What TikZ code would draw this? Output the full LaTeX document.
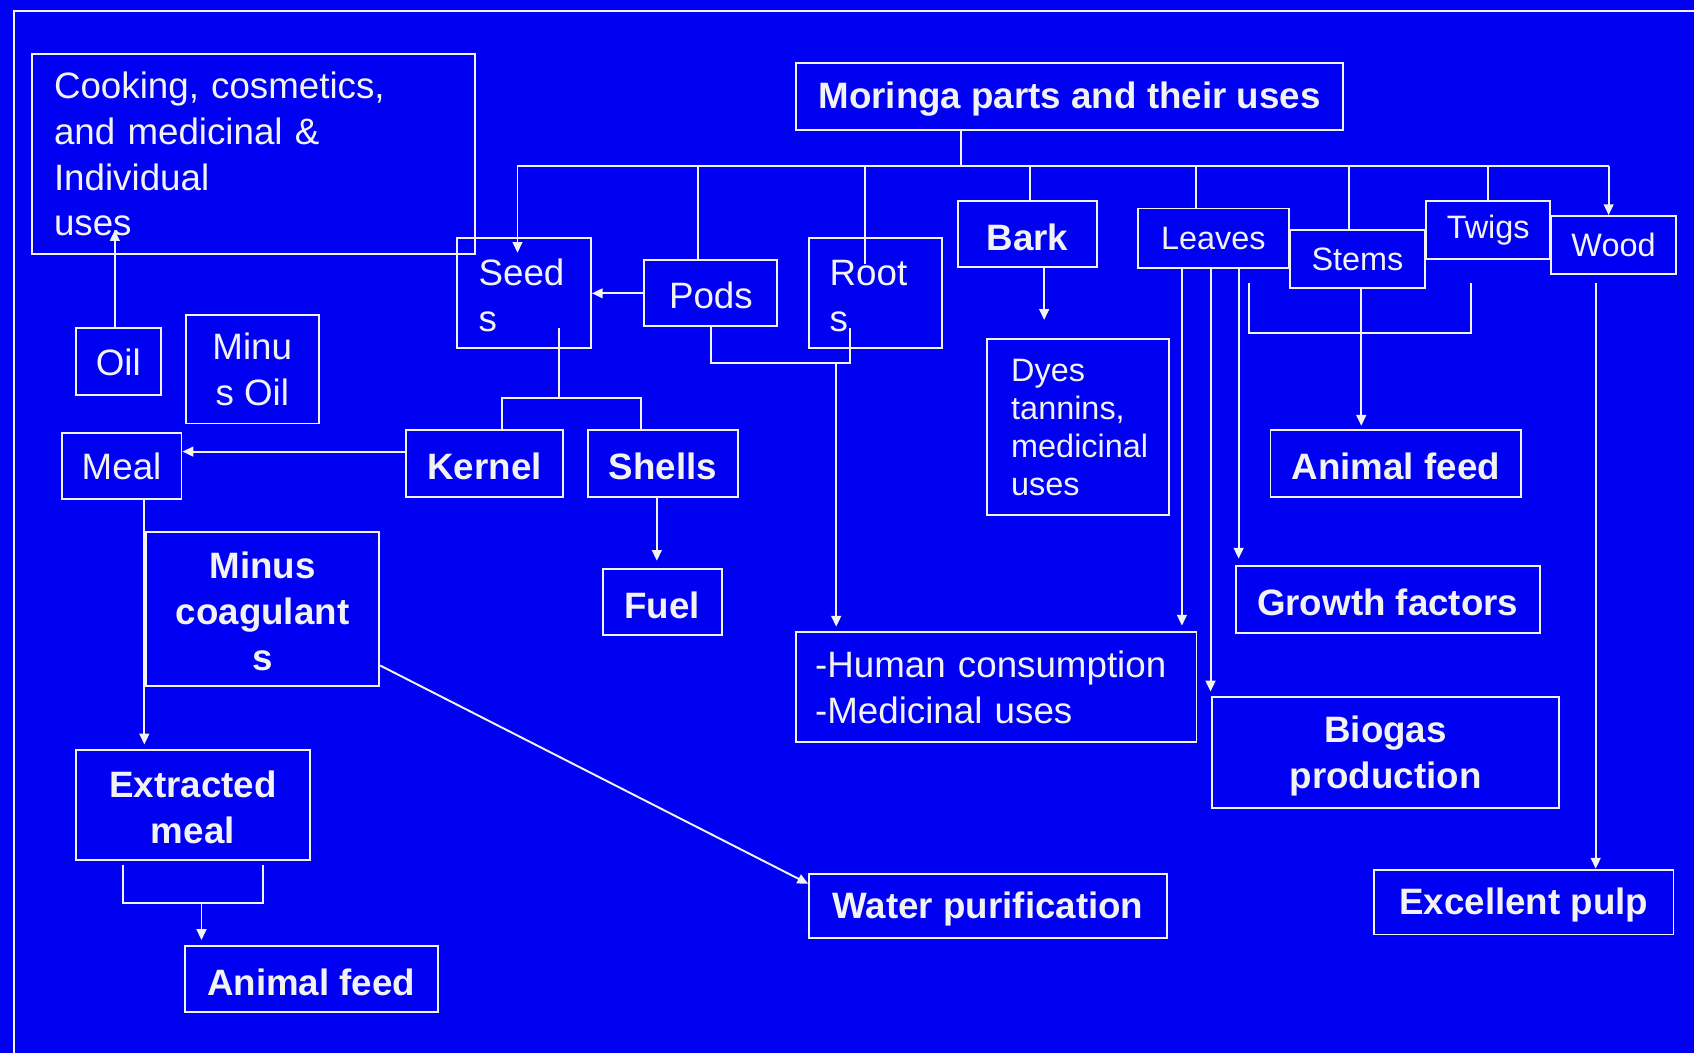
\documentclass[tikz,border=0pt]{standalone}
\usepackage{fontspec}
\setmainfont{Liberation Sans}
\usetikzlibrary{arrows.meta,calc}
\definecolor{bg}{RGB}{0,0,242}
\definecolor{fg}{RGB}{242,242,242}
\hyphenpenalty=10000
\exhyphenpenalty=10000
\newcommand\bstrut{\rule{0pt}{30.5pt}}
\newcommand\rstrut{\rule{0pt}{29pt}}
\begin{document}
\begin{tikzpicture}[x=1pt,y=-1pt,
  box/.style={draw=fg, line width=1.8pt, text=fg, inner sep=0pt, align=center, font=\fontsize{34}{42.5}\selectfont},
  bbox/.style={box, font=\fontsize{34}{42.5}\selectfont\bfseries, execute at begin node=\bstrut},
  rbox/.style={box, execute at begin node=\rstrut},
  sbox/.style={box, font=\fontsize{30}{35.3}\selectfont},
  conn/.style={draw=fg, line width=1.8pt},
  arr/.style={conn, -{Triangle[width=9pt,length=10pt]}}]
\fill[bg] (0,0) rectangle (1568,975);
\useasboundingbox (0,0) rectangle (1568,975);
% frame
\coordinate (fTL) at (13,10.2);
\coordinate (fTR) at (1568,10.2);
\coordinate (fBL) at (13,975);
\draw[conn, line width=2.2pt] (fTR) -- (fTL) -- (fBL);
% nodes
\node[box, minimum width=410pt, minimum height=185pt, inner xsep=20pt, text width=370pt, align=left] (cook) at (235,142.5) {Cooking, cosmetics,\\and medicinal \&\\Individual\\uses};
\node[bbox, minimum width=506pt, minimum height=62pt] (title) at (990,89) {Moringa parts and their uses};
\node[rbox, minimum width=124pt, minimum height=102pt, inner xsep=20pt, text width=84pt, align=left] (seeds) at (485,271) {Seed\\s};
\node[rbox, minimum width=123pt, minimum height=61pt] (pods) at (658,271.5) {Pods};
\node[rbox, minimum width=123pt, minimum height=102pt, inner xsep=19pt, text width=85pt, align=left] (roots) at (810.5,271) {Root\\s};
\node[bbox, minimum width=128pt, minimum height=61pt] (bark) at (951,216.5) {Bark};
\node[sbox, minimum width=168pt, minimum height=163pt, inner xsep=22pt, text width=124pt, align=left] (dyes) at (998,395.5) {Dyes\\tannins,\\medicinal\\uses};
\node[sbox, minimum width=140pt, minimum height=55pt] (leaves) at (1123,220.5) {Leaves};
\node[sbox, minimum width=125pt, minimum height=54pt] (stems) at (1256.5,240) {Stems};
\node[sbox, minimum width=115pt, minimum height=54pt] (twigs) at (1377.5,213) {Twigs};
\node[sbox, minimum width=115pt, minimum height=54pt] (wood) at (1493.5,227) {Wood};
\node[box, minimum width=79pt, minimum height=62pt] (oil) at (109.5,335) {Oil};
\node[rbox, minimum width=123pt, minimum height=100pt] (minusoil) at (233.5,342) {Minu\\s Oil};
\node[box, minimum width=111pt, minimum height=61pt] (meal) at (112.5,431.5) {Meal};
\node[bbox, minimum width=145pt, minimum height=62pt] (kernel) at (448.5,429) {Kernel};
\node[bbox, minimum width=139pt, minimum height=62pt] (shells) at (613.5,429) {Shells};
\node[bbox, minimum width=110pt, minimum height=61pt] (fuel) at (613,557.5) {Fuel};
\node[bbox, minimum width=216pt, minimum height=143pt] (coag) at (243,563.5) {\rule{0pt}{30pt}Minus\\coagulant\\s};
\node[bbox, minimum width=217pt, minimum height=102pt] (extr) at (178.5,745) {\rule{0pt}{30pt}Extracted\\meal};
\node[bbox, minimum width=234pt, minimum height=61pt] (feedL) at (288,906.5) {Animal feed};
\node[bbox, minimum width=331pt, minimum height=59pt] (water) at (914.5,838.5) {Water purification};
\node[box, minimum width=371pt, minimum height=102pt, inner xsep=18pt, text width=335pt, align=left] (human) at (922,636) {-Human consumption\\-Medicinal uses};
\node[bbox, minimum width=232pt, minimum height=62pt] (feedR) at (1292,429) {Animal feed};
\node[bbox, minimum width=281pt, minimum height=62pt] (growth) at (1284.5,555) {Growth factors};
\node[bbox, minimum width=321pt, minimum height=103pt] (biogas) at (1282.5,696.5) {\rule{0pt}{32pt}Biogas\\production};
\node[bbox, minimum width=277pt, minimum height=60pt] (pulp) at (1410.5,835) {Excellent pulp};
% bus
\coordinate (busL) at (479,153.5);
\coordinate (busR) at (1489,153.5);
\coordinate (busT) at (889.5,153.5);
\coordinate (sIn) at (479,234);
\coordinate (pT) at (646,153.5);
\coordinate (rT) at (800.6,153.5);
\coordinate (rIn) at (800.6,244);
\coordinate (bT) at (953,153.5);
\coordinate (lT) at (1107,153.5);
\coordinate (stT) at (1248.5,153.5);
\coordinate (tT) at (1377,153.5);
\draw[conn] (title.south -| busT) -- (busT);
\draw[conn] (busL) -- (busR);
\draw[arr] (busL) -- (sIn);
\draw[conn] (pT) -- (pods.north -| pT);
\draw[conn] (rT) -- (rIn);
\draw[conn] (bT) -- (bark.north -| bT);
\draw[conn] (lT) -- (leaves.north -| lT);
\draw[conn] (stT) -- (stems.north -| stT);
\draw[conn] (tT) -- (twigs.north -| tT);
\draw[arr] (busR) -- (wood.north -| busR);
% pods / roots
\draw[arr] (pods.west) -- (seeds.east |- pods.west);
\coordinate (pr1) at (658,336);
\coordinate (pr2) at (786.5,336);
\coordinate (pr3) at (786.5,304);
\draw[conn] (pods.south) -- (pr1) -- (pr2) -- (pr3);
\coordinate (rh) at (774,336);
\draw[arr, shorten >=4pt] (rh) -- (human.north -| rh);
% seeds
\coordinate (sd1) at (517,304);
\coordinate (sd2) at (517,368.5);
\coordinate (ks1) at (465,368.5);
\coordinate (ks2) at (593,368.5);
\draw[conn] (sd1) -- (sd2);
\draw[conn] (kernel.north -| ks1) -- (ks1) -- (ks2) -- (shells.north -| ks2);
\coordinate (km) at (376,418);
\draw[arr] (kernel.west |- km) -- (meal.east |- km);
\coordinate (oc) at (106.3,213);
\draw[arr] (oil.north -| oc) -- (oc);
\coordinate (me) at (133.6,463);
\draw[arr, shorten >=4pt] (meal.south -| me) -- (extr.north -| me);
\coordinate (eb1) at (114,800.6);
\coordinate (eb2) at (114,835.5);
\coordinate (eb3) at (243,835.5);
\coordinate (eb4) at (243,800.6);
\coordinate (eb5) at (186.5,835.5);
\draw[conn] (eb1) -- (eb2) -- (eb3) -- (eb4);
\draw[arr, shorten >=5pt] (eb5) -- (feedL.north -| eb5);
\coordinate (cw1) at (353,616);
\coordinate (cw2) at (746,818);
\draw[arr] (coag.east |- cw1) -- (water.west |- cw2);
\coordinate (sf) at (608,460);
\draw[arr, shorten >=7pt] (shells.south -| sf) -- (fuel.north -| sf);
% bark
\coordinate (bd) at (966.5,250);
\draw[arr, shorten >=17pt] (bark.south -| bd) -- (dyes.north -| bd);
% leaves
\coordinate (lv1) at (1094,248);
\coordinate (lv2) at (1120.5,248);
\coordinate (lv3) at (1146.5,248);
\draw[arr, shorten >=5pt] (leaves.south -| lv1) -- (human.north -| lv1);
\draw[arr, shorten >=4pt] (leaves.south -| lv2) -- (biogas.north -| lv2);
\draw[arr, shorten >=6pt] (leaves.south -| lv3) -- (growth.north -| lv3);
% stems
\coordinate (sa) at (1260,267);
\draw[arr, shorten >=3pt] (stems.south -| sa) -- (feedR.north -| sa);
\coordinate (sb1) at (1156,262);
\coordinate (sb2) at (1156,308);
\coordinate (sb3) at (1362,308);
\coordinate (sb4) at (1362,262);
\draw[conn] (sb1) -- (sb2) -- (sb3) -- (sb4);
% wood
\coordinate (wp) at (1477,262);
\draw[arr] (wp) -- (pulp.north -| wp);
\end{tikzpicture}
\end{document}
